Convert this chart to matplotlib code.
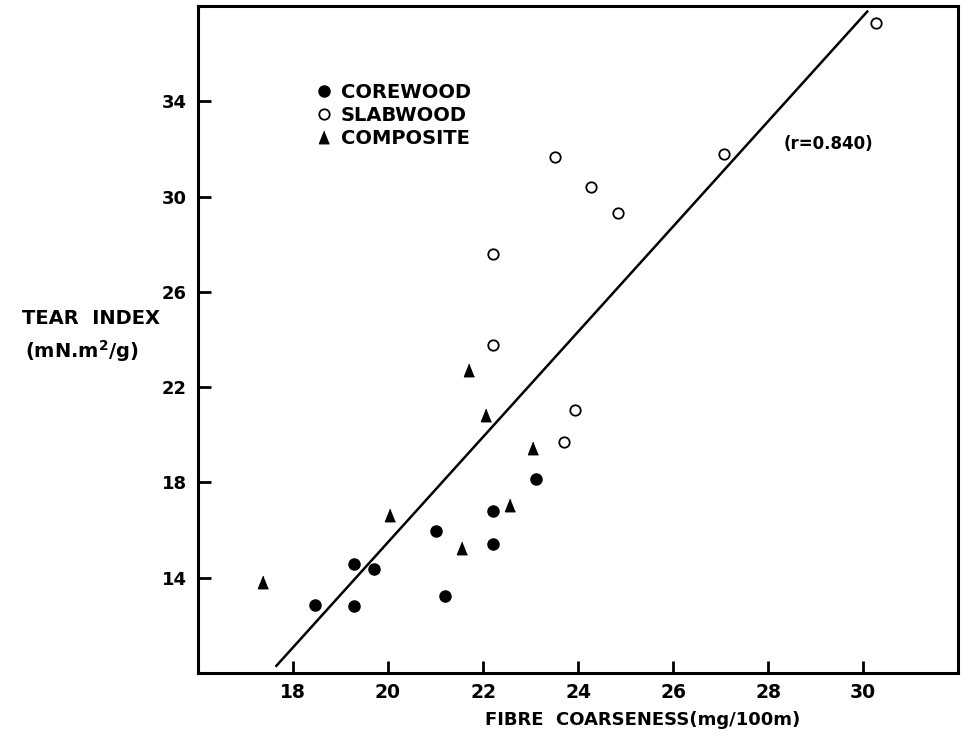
import matplotlib
matplotlib.use("Agg")
import matplotlib.pyplot as plt
import numpy as np

# valores
core_x = [18.47, 19.29, 19.29, 19.71, 21.02, 21.19, 22.21, 22.21, 23.12]
core_y = [12.86, 14.59, 12.82, 14.38, 15.98, 13.24, 16.78, 15.40, 18.13]

slab_x = [22.22, 22.21, 23.52, 23.71, 23.94, 24.28, 24.85, 27.08, 30.28]
slab_y = [27.58, 23.77, 31.65, 19.68, 21.03, 30.42, 29.32, 31.80, 37.28]

comp_x = [17.37, 20.05, 21.56, 21.71, 22.07, 22.56, 23.06]
comp_y = [13.83, 16.65, 15.26, 22.70, 20.82, 17.05, 19.44]

# recta de regresion
fit_slope = 2.208
fit_intercept = -28.67
fit_x = [17.65, 30.09]

x_ticks = [18, 20, 22, 24, 26, 28, 30]
y_ticks = [14, 18, 22, 26, 30, 34]

plt.rcParams['font.family'] = ['DejaVu Sans']
plt.rcParams['font.weight'] = 'bold'
plt.rcParams['mathtext.default'] = 'bf'

fig = plt.figure(figsize=(9.63, 7.40), dpi=100)
ax = fig.add_axes([198 / 963, 1 - 673 / 740, 760 / 963, 667 / 740])

tri = [(0, 1), (-0.8, -1), (0.8, -1)]

ax.plot(core_x, core_y, 'o', color='black', ms=8, label='COREWOOD')
ax.plot(slab_x, slab_y, 'o', mfc='white', mec='black', mew=1.3, ms=7.5,
        label='SLABWOOD')
ax.plot(comp_x, comp_y, marker=tri, ls='none', color='black', ms=9,
        label='COMPOSITE')

fx = np.array(fit_x)
ax.plot(fx, fit_intercept + fit_slope * fx, color='black', lw=1.8)

ax.text(28.32, 32.19, '(r=0.840)', fontsize=12, fontweight='bold',
        va='center', ha='left')

ax.set_xlim(16, 32)
ax.set_ylim(10, 38)
ax.set_xticks(x_ticks)
ax.set_yticks(y_ticks)
ax.tick_params(direction='in', length=9, width=2, labelsize=13.5, pad=7)
ax.tick_params(axis='y', pad=8, labelsize=13)
for s in ax.spines.values():
    s.set_linewidth(2.2)

leg = ax.legend(loc='upper left', bbox_to_anchor=(0.156, 0.885),
                frameon=False, fontsize=14, handlelength=0.8,
                handletextpad=0.45, labelspacing=0.22, borderpad=0,
                borderaxespad=0)

fig.text(91 / 963, 1 - 318 / 740, 'TEAR  INDEX', fontsize=14,
         fontweight='bold', ha='center', va='center')
fig.text(82 / 963, 1 - 351 / 740, r'(mN.m$^{2}$/g)', fontsize=14,
         fontweight='bold', ha='center', va='center')
fig.text(643 / 963, 1 - 720 / 740, 'FIBRE  COARSENESS(mg/100m)',
         fontsize=13, fontweight='bold', ha='center', va='center')

fig.savefig('out.png', dpi=100)
